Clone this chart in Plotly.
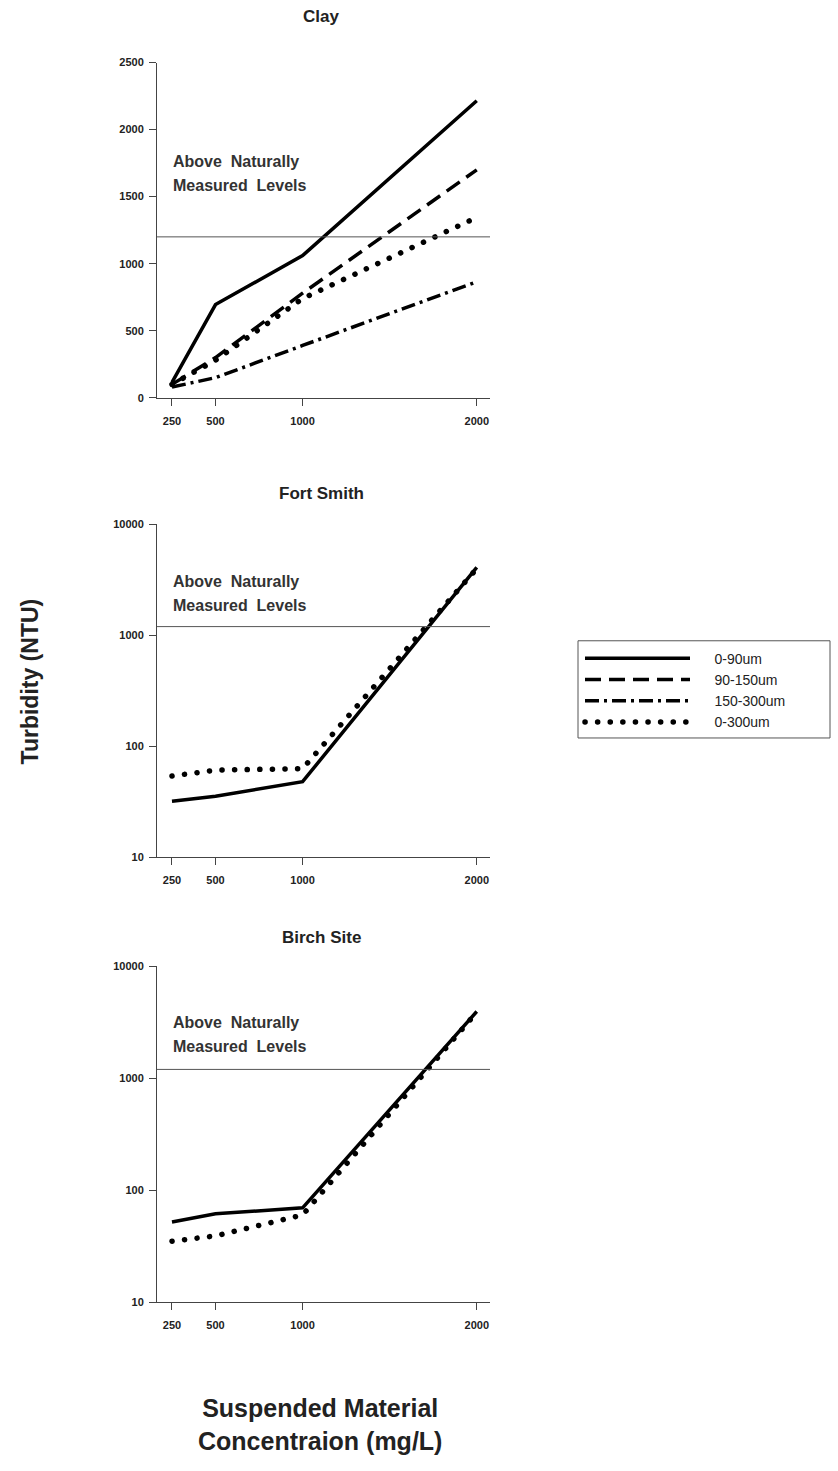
import plotly.graph_objects as go

# ---------------- data ----------------
conc = [250, 500, 1000, 2000]
series_names = ["0-90um", "90-150um", "150-300um", "0-300um"]

clay_0_90 = [115, 695, 1060, 2215]
clay_90_150 = [100, 300, 780, 1700]
clay_150_300 = [80, 150, 390, 865]
clay_0_300 = [100, 280, 740, 1345]

fort_0_90 = [32, 35.5, 48, 4100]
fort_0_300 = [54, 61, 63, 4000]

birch_0_90 = [52, 61.5, 69.5, 3950]
birch_0_300 = [35, 39, 60, 3900]

threshold = 1200
x_ticks = [250, 500, 1000, 2000]
clay_y_ticks = [0, 500, 1000, 1500, 2000, 2500]
log_y_ticks = [10, 100, 1000, 10000]

panel_titles = ["Clay", "Fort Smith", "Birch Site"]
note_lines = ["Above  Naturally", "Measured  Levels"]

# ---------------- styles ----------------
W, H = 838, 1471
FONT = "Arial, 'Liberation Sans', sans-serif"
LW = 3.5
styles = {
    "0-90um": dict(color="black", width=LW, dash="solid"),
    "90-150um": dict(color="black", width=LW, dash="16px,8px"),
    "150-300um": dict(color="black", width=LW, dash="14px,5px,3px,5px"),
    "0-300um": dict(color="black", width=5.5, dash="0.1px,12.5px"),
}

def px_x(p):
    return p / W

def px_y(p):
    return 1 - p / H

x_dom = [px_x(157), px_x(490)]
y_doms = [
    [px_y(395), px_y(57)],
    [px_y(858.3), px_y(522.7)],
    [px_y(1306.7), px_y(968.3)],
]

fig = go.Figure()

panels = [
    [("0-90um", clay_0_90), ("90-150um", clay_90_150),
     ("150-300um", clay_150_300), ("0-300um", clay_0_300)],
    [("0-300um", fort_0_300), ("0-90um", fort_0_90)],
    [("0-300um", birch_0_300), ("0-90um", birch_0_90)],
]

PAD = "\u00a0" * 5
for i, traces in enumerate(panels):
    xa = "x" if i == 0 else f"x{i+1}"
    ya = "y" if i == 0 else f"y{i+1}"
    for name, vals in traces:
        fig.add_trace(go.Scatter(
            x=conc, y=vals, mode="lines", name=PAD + name,
            line=styles[name], xaxis=xa, yaxis=ya,
            showlegend=(i == 0), legendrank=series_names.index(name),
        ))

axis_common = dict(
    showgrid=False, zeroline=False, showline=True, linecolor="#444",
    linewidth=1, ticks="outside", ticklen=7, tickcolor="#444",
    tickfont=dict(family=FONT, size=11, color="#222", weight="bold"),
)

layout = dict(
    width=W, height=H, margin=dict(l=0, r=0, t=0, b=0),
    paper_bgcolor="white", plot_bgcolor="white",
    font=dict(family=FONT),
    legend=dict(
        x=px_x(580), y=px_y(642), xanchor="left", yanchor="top",
        borderwidth=0, bgcolor="rgba(0,0,0,0)",
        font=dict(family=FONT, size=14, color="#222"),
        itemwidth=105, tracegroupgap=0,
    ),
)

for i in range(3):
    xk = "xaxis" if i == 0 else f"xaxis{i+1}"
    yk = "yaxis" if i == 0 else f"yaxis{i+1}"
    ya = "y" if i == 0 else f"y{i+1}"
    layout[xk] = dict(axis_common, domain=x_dom, range=[164, 2076],
                      tickvals=x_ticks, ticktext=[str(v) for v in x_ticks],
                      anchor=ya, ticklabelstandoff=6)
    if i == 0:
        layout[yk] = dict(axis_common, domain=y_doms[i], range=[0, 2500],
                          tickvals=clay_y_ticks, anchor="x", ticklabelstandoff=3)
    else:
        layout[yk] = dict(axis_common, domain=y_doms[i], type="log",
                          range=[1, 4], tickvals=log_y_ticks,
                          ticktext=[str(v) for v in log_y_ticks],
                          anchor=f"x{i+1}", ticklabelstandoff=3)

fig.update_layout(**layout)

# legend frame
fig.add_shape(type="rect", xref="paper", yref="paper",
              x0=px_x(578), x1=px_x(830), y0=px_y(738), y1=px_y(640),
              line=dict(color="#555", width=1), fillcolor="rgba(0,0,0,0)")

# threshold lines
for i in range(3):
    xr = "x domain" if i == 0 else f"x{i+1} domain"
    yr = "y" if i == 0 else f"y{i+1}"
    fig.add_shape(type="line", xref=xr, yref=yr, x0=0, x1=1,
                  y0=threshold, y1=threshold,
                  line=dict(color="#555", width=1))

# notes (two lines each, placed in page pixels)
note_rows = [(157, 181), (580, 604), (1025, 1049)]
for rows in note_rows:
    for txt, yy in zip(note_lines, rows):
        fig.add_annotation(text=txt, xref="paper", yref="paper",
                           x=px_x(171), y=px_y(yy),
                           xanchor="left", yanchor="middle", showarrow=False,
                           font=dict(family=FONT, size=16, color="#333", weight="bold"))

# panel titles
title_y = [11, 492, 939]
for t, yy in zip(panel_titles, title_y):
    fig.add_annotation(text=t, xref="paper", yref="paper", x=px_x(321), y=px_y(yy),
                       xanchor="center", yanchor="middle", showarrow=False,
                       font=dict(family=FONT, size=17, color="#222", weight="bold"))

# axis titles
fig.add_annotation(text="Turbidity (NTU)", xref="paper", yref="paper",
                   x=px_x(30), y=px_y(681), textangle=-90, showarrow=False,
                   xanchor="center", yanchor="middle",
                   font=dict(family=FONT, size=23, color="#222", weight="bold"))
fig.add_annotation(text="Suspended Material<br>Concentraion (mg/L)",
                   xref="paper", yref="paper", x=px_x(320), y=px_y(1430),
                   xanchor="center", yanchor="middle", showarrow=False,
                   font=dict(family=FONT, size=25, color="#222", weight="bold"))

post = """
document.querySelectorAll('path.js-line').forEach(function(p){
  var d = p.style.strokeDasharray || '';
  if (d.indexOf('0.1') === 0) { p.style.strokeLinecap = 'round'; }
});
"""

fig.write_html("out.html", post_script=post)
